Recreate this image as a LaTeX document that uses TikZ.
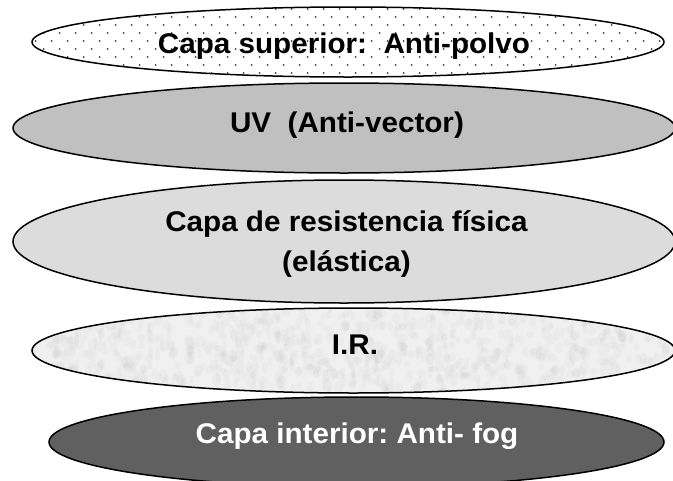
\documentclass[tikz,border=0pt]{standalone}
\usepackage{fontspec}
\setmainfont{Liberation Sans}
\newfontfamily\layerfont[FakeStretch=1.04]{Liberation Sans}
\usetikzlibrary{shapes.geometric}
\frenchspacing

\definecolor{uvgray}{HTML}{C0C0C0}
\definecolor{fisgray}{HTML}{DCDCDC}
\definecolor{irgray}{HTML}{F0F0F0}
\definecolor{foggray}{HTML}{606060}
\definecolor{dotgray}{HTML}{404040}

\begin{document}
\begin{tikzpicture}[x=1pt, y=-1pt,
    layer/.style={ellipse, draw=black, line width=1.5pt, inner sep=0pt},
    lbl/.style={font={\layerfont\bfseries\fontsize{28.5}{40}\selectfont},
                anchor=base, inner sep=0pt, align=center},
    speck/.style={gray!60, opacity=.08}
  ]
  \useasboundingbox (0,0) rectangle (673,480);

  % dotted top layer
  \node[layer, fill=white, minimum width=632pt, minimum height=70pt,
        path picture={
          \begin{scope}[shift={(path picture bounding box.center)}]
            \foreach \j in {-5,...,5}
              \foreach \k in {0,...,41}
                \fill[dotgray] ({-344.3+16*\k+8*mod(\j+6,2)},{-1+8*\j}) circle (1pt);
          \end{scope}}] (sup) at (348,42) {};
  \node[lbl] (suptxt) at (344,53) {Capa superior:\ \ Anti-polvo};

  \node[layer, fill=uvgray, minimum width=662pt, minimum height=90pt] (uv) at (344,128) {};
  \node[lbl] (uvtxt) at (347,132) {UV\ \ (Anti-vector)};

  \node[layer, fill=fisgray, minimum width=662pt, minimum height=123pt] (fis) at (344,241.5) {};
  \node[lbl] (fistxt) at (346.5,271) {Capa de resistencia física\\(elástica)};

  % mottled IR layer
  \node[layer, fill=irgray, minimum width=643pt, minimum height=85pt,
        path picture={
          \begin{scope}[shift={(path picture bounding box.center)}]
            \pgfmathsetseed{42}
            \foreach \n in {1,...,900}
              \fill[speck] ({325*rand},{44*rand})
                ellipse [x radius={2+3*rnd}, y radius={3+4*rnd}];
          \end{scope}}] (ir) at (353.5,350.5) {};
  \node[lbl] (irtxt) at (355,354) {I.R.};

  \node[layer, fill=foggray, minimum width=615pt, minimum height=90pt] (fog) at (356.5,442) {};
  \node[lbl, text=white] (fogtxt) at (357,443) {Capa interior: Anti- fog};
\end{tikzpicture}
\end{document}
